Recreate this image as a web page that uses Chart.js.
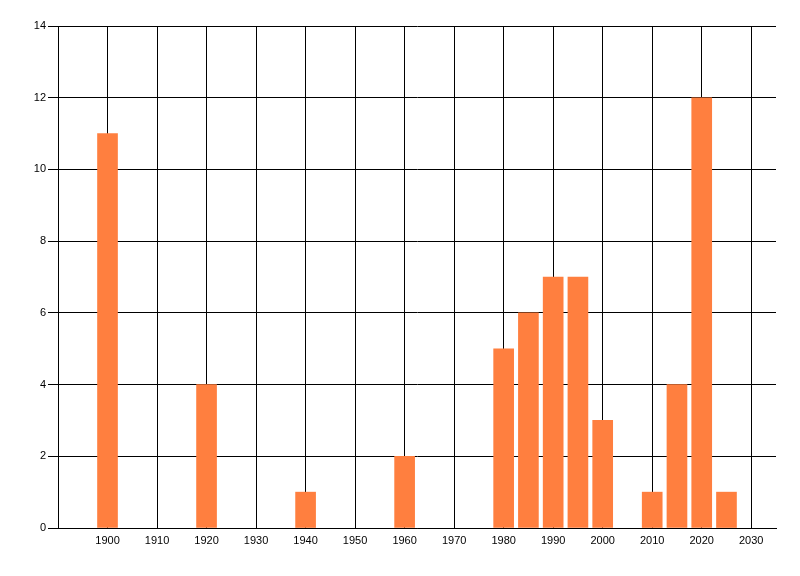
<!DOCTYPE html>
<html>
<head>
<meta charset="utf-8">
<script src="https://cdn.jsdelivr.net/npm/chart.js@4"></script>
<style>
  html, body { margin: 0; padding: 0; background: #fff; }
  #wrap { width: 800px; height: 576px; }
</style>
</head>
<body>
<div id="wrap"><canvas id="myChart"></canvas></div>
<script>
// values
var years  = [1900, 1920, 1940, 1960, 1980, 1985, 1990, 1995, 2000, 2010, 2015, 2020, 2025];
var counts = [11, 4, 1, 2, 5, 6, 7, 7, 3, 1, 4, 12, 1];
var xTicks = [1890, 1900, 1910, 1920, 1930, 1940, 1950, 1960, 1970, 1980, 1990, 2000, 2010, 2020, 2030];
var xMin = 1890, xMax = 2035;
var yMin = 0, yMax = 14, yStep = 2;

Chart.defaults.font.family = '"Liberation Sans", Arial, sans-serif';
Chart.defaults.font.size = 11;
Chart.defaults.color = '#000';

var points = years.map(function (y, i) { return { x: y, y: counts[i] }; });

var ctx = document.getElementById("myChart");
var myChart = new Chart(ctx, {
  type: 'bar',
  data: {
    datasets: [{
      data: points,
      backgroundColor: '#FF7F3F',
      borderWidth: 0,
      barThickness: 20
    }]
  },
  options: {
    responsive: true,
    maintainAspectRatio: false,
    animation: false,
    layout: { padding: { top: 26, right: 24, left: 0, bottom: 0 } },
    plugins: {
      legend: { display: false },
      tooltip: { enabled: false }
    },
    scales: {
      x: {
        type: 'linear',
        min: xMin,
        max: xMax,
        offset: false,
        border: { color: '#000', width: 1 },
        grid: { color: '#000', lineWidth: 1, drawTicks: false, offset: false },
        ticks: {
          padding: 6,
          maxRotation: 0,
          autoSkip: false,
          callback: function (v) { return v === xMin ? '' : String(v); }
        },
        afterBuildTicks: function (scale) {
          scale.ticks = xTicks.map(function (v) { return { value: v }; });
        },
        afterFit: function (scale) { scale.height = 48; }
      },
      y: {
        min: yMin,
        max: yMax,
        border: { color: '#000', width: 1 },
        grid: { color: '#000', lineWidth: 1, tickLength: 10 },
        ticks: { stepSize: yStep, padding: 2 },
        afterFit: function (scale) { scale.width = 58; }
      }
    }
  }
});
</script>
</body>
</html>
